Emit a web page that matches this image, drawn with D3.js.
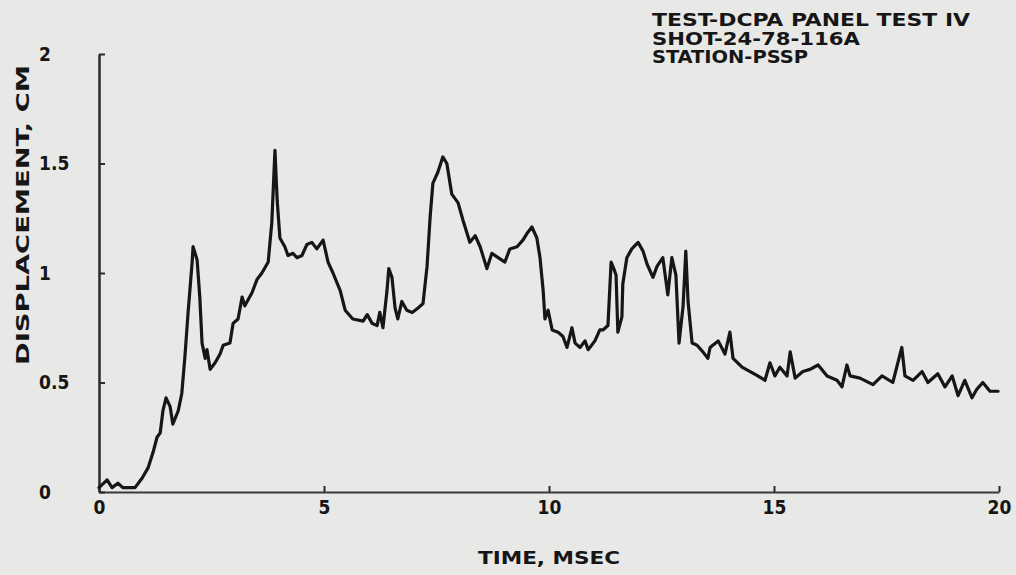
<!DOCTYPE html>
<html>
<head>
<meta charset="utf-8">
<script src="https://cdn.jsdelivr.net/npm/d3@7"></script>
<style>
  html, body { margin: 0; padding: 0; background: #e8e8e6; }
  svg { display: block; }
  text { font-family: "DejaVu Sans Condensed", "DejaVu Sans", sans-serif; font-weight: bold; fill: #161616; }
</style>
</head>
<body>
<svg id="chart" width="1016" height="575"></svg>
<script>
// time, msec
const timeMs = [
  0, 0.18, 0.29, 0.42, 0.53, 0.80, 0.96, 1.09, 1.20, 1.29, 1.36, 1.42, 1.49, 1.58, 1.64, 1.76, 1.84, 1.91, 1.98, 2.07,
  2.09, 2.18, 2.24, 2.29, 2.36, 2.40, 2.47, 2.58, 2.69, 2.76, 2.91, 2.98, 3.09, 3.18, 3.24, 3.40, 3.51, 3.62, 3.76, 3.84,
  3.91, 3.96, 4.02, 4.13, 4.20, 4.31, 4.40, 4.51, 4.62, 4.73, 4.84, 4.98, 5.09, 5.20, 5.36, 5.47, 5.64, 5.87, 5.96, 6.07,
  6.18, 6.24, 6.31, 6.40, 6.44, 6.51, 6.58, 6.64, 6.73, 6.84, 6.96, 7.09, 7.20, 7.29, 7.36, 7.42, 7.53, 7.64, 7.73, 7.84,
  7.98, 8.09, 8.24, 8.36, 8.47, 8.62, 8.73, 8.87, 9.02, 9.13, 9.29, 9.42, 9.51, 9.62, 9.73, 9.80, 9.87, 9.91, 9.98, 10.07,
  10.20, 10.31, 10.40, 10.51, 10.58, 10.69, 10.80, 10.87, 11.02, 11.13, 11.20, 11.31, 11.38, 11.44, 11.49, 11.53, 11.62, 11.64, 11.73, 11.84,
  11.98, 12.09, 12.18, 12.31, 12.40, 12.53, 12.64, 12.73, 12.82, 12.89, 12.98, 13.04, 13.09, 13.18, 13.29, 13.42, 13.53, 13.58, 13.64, 13.76,
  13.91, 14.02, 14.09, 14.29, 14.47, 14.64, 14.80, 14.91, 15.02, 15.13, 15.29, 15.36, 15.47, 15.64, 15.80, 15.98, 16.18, 16.40, 16.51, 16.62,
  16.69, 16.91, 17.20, 17.40, 17.64, 17.84, 17.91, 18.09, 18.29, 18.42, 18.64, 18.80, 18.96, 19.09, 19.24, 19.40, 19.51, 19.64, 19.80, 19.98
]

// displacement, cm
const displacementCm = [
  0.02, 0.055, 0.02, 0.04, 0.02, 0.02, 0.064, 0.11, 0.18, 0.25, 0.27, 0.37, 0.43, 0.39, 0.31, 0.37, 0.45, 0.62, 0.82, 1.05,
  1.12, 1.06, 0.89, 0.68, 0.61, 0.65, 0.56, 0.59, 0.63, 0.67, 0.68, 0.77, 0.79, 0.89, 0.85, 0.91, 0.97, 1.00, 1.05, 1.23,
  1.56, 1.33, 1.16, 1.12, 1.08, 1.09, 1.07, 1.08, 1.13, 1.14, 1.11, 1.15, 1.05, 1.00, 0.92, 0.83, 0.79, 0.78, 0.81, 0.77,
  0.76, 0.82, 0.75, 0.92, 1.02, 0.98, 0.84, 0.79, 0.87, 0.83, 0.82, 0.84, 0.86, 1.03, 1.26, 1.41, 1.46, 1.53, 1.50, 1.36,
  1.32, 1.24, 1.14, 1.17, 1.12, 1.02, 1.09, 1.07, 1.05, 1.11, 1.12, 1.15, 1.18, 1.21, 1.16, 1.07, 0.92, 0.79, 0.83, 0.74,
  0.73, 0.71, 0.66, 0.75, 0.68, 0.66, 0.69, 0.65, 0.69, 0.74, 0.74, 0.76, 1.05, 1.02, 0.99, 0.73, 0.80, 0.95, 1.07, 1.11,
  1.14, 1.10, 1.04, 0.98, 1.03, 1.07, 0.90, 1.07, 0.99, 0.68, 0.85, 1.10, 0.87, 0.68, 0.67, 0.64, 0.61, 0.66, 0.67, 0.69,
  0.63, 0.73, 0.61, 0.57, 0.55, 0.53, 0.51, 0.59, 0.53, 0.57, 0.53, 0.64, 0.52, 0.55, 0.56, 0.58, 0.53, 0.51, 0.48, 0.58,
  0.53, 0.52, 0.49, 0.53, 0.50, 0.66, 0.53, 0.51, 0.55, 0.50, 0.54, 0.48, 0.53, 0.44, 0.51, 0.43, 0.47, 0.50, 0.46, 0.46
]

const xTicks = [0, 5, 10, 15, 20]
const xTickLabels = ["0", "5", "10", "15", "20"]
const yTicks = [0, 0.5, 1, 1.5, 2]
const yTickLabels = ["0", "0.5", "1", "1.5", "2"]
const titleLines = ["TEST-DCPA PANEL TEST IV", "SHOT-24-78-116A", "STATION-PSSP"]

const svg = d3.select("#chart")
const ink = "#161616"

const xScale = d3.scaleLinear().domain([0, 20]).range([99, 999])
const yScale = d3.scaleLinear().domain([0, 2]).range([492, 54])

// x axis, ticks pointing up
const xAxis = svg.append("g")
    .attr("transform", "translate(0," + yScale(0) + ")")
    .call(d3.axisBottom(xScale)
        .tickValues(xTicks)
        .tickFormat((d, i) => xTickLabels[i])
        .tickSizeInner(-6)
        .tickSizeOuter(0)
        .tickPadding(9))
xAxis.attr("font-family", null)
xAxis.select(".domain").attr("stroke", "#3a3a3a").attr("stroke-width", 2)
xAxis.selectAll(".tick line").attr("stroke", "#2a2a2a").attr("stroke-width", 2)
xAxis.selectAll("text").attr("font-size", 19).attr("fill", ink)

// y axis, ticks pointing right, labels left-aligned
const yAxis = svg.append("g")
    .attr("transform", "translate(" + xScale(0) + ",0)")
    .call(d3.axisLeft(yScale)
        .tickValues(yTicks)
        .tickFormat((d, i) => yTickLabels[i])
        .tickSizeInner(-6)
        .tickSizeOuter(0))
yAxis.attr("font-family", null)
yAxis.select(".domain").attr("stroke", "#2a2a2a").attr("stroke-width", 2.5)
yAxis.selectAll(".tick line").attr("stroke", "#2a2a2a").attr("stroke-width", 2)
yAxis.selectAll("text")
    .attr("font-size", 19)
    .attr("fill", ink)
    .attr("text-anchor", "start")
    .attr("x", 39 - xScale(0))

// trace
const points = timeMs.map((t, i) => ({ t: t, v: displacementCm[i] }))
const line = d3.line()
    .x(d => xScale(d.t))
    .y(d => yScale(d.v))

svg.append("path")
    .attr("d", line(points))
    .attr("fill", "none")
    .attr("stroke", ink)
    .attr("stroke-width", 3.2)
    .attr("stroke-linejoin", "round")
    .attr("stroke-linecap", "round")

// axis titles
svg.append("text")
    .attr("x", 549)
    .attr("y", 564)
    .attr("text-anchor", "middle")
    .attr("font-size", 18)
    .attr("textLength", 142)
    .attr("lengthAdjust", "spacingAndGlyphs")
    .text("TIME, MSEC")

svg.append("text")
    .attr("transform", "translate(29,215) rotate(-90)")
    .attr("text-anchor", "middle")
    .attr("font-size", 18)
    .attr("textLength", 300)
    .attr("lengthAdjust", "spacingAndGlyphs")
    .text("DISPLACEMENT, CM")

// test annotation
const titleWidths = [318, 208, 156]
svg.append("g")
    .selectAll("text")
    .data(titleLines)
    .join("text")
    .attr("x", 652)
    .attr("y", (d, i) => 26 + i * 18.5)
    .attr("font-size", 17)
    .attr("textLength", (d, i) => titleWidths[i])
    .attr("lengthAdjust", "spacingAndGlyphs")
    .text(d => d)
</script>
</body>
</html>
